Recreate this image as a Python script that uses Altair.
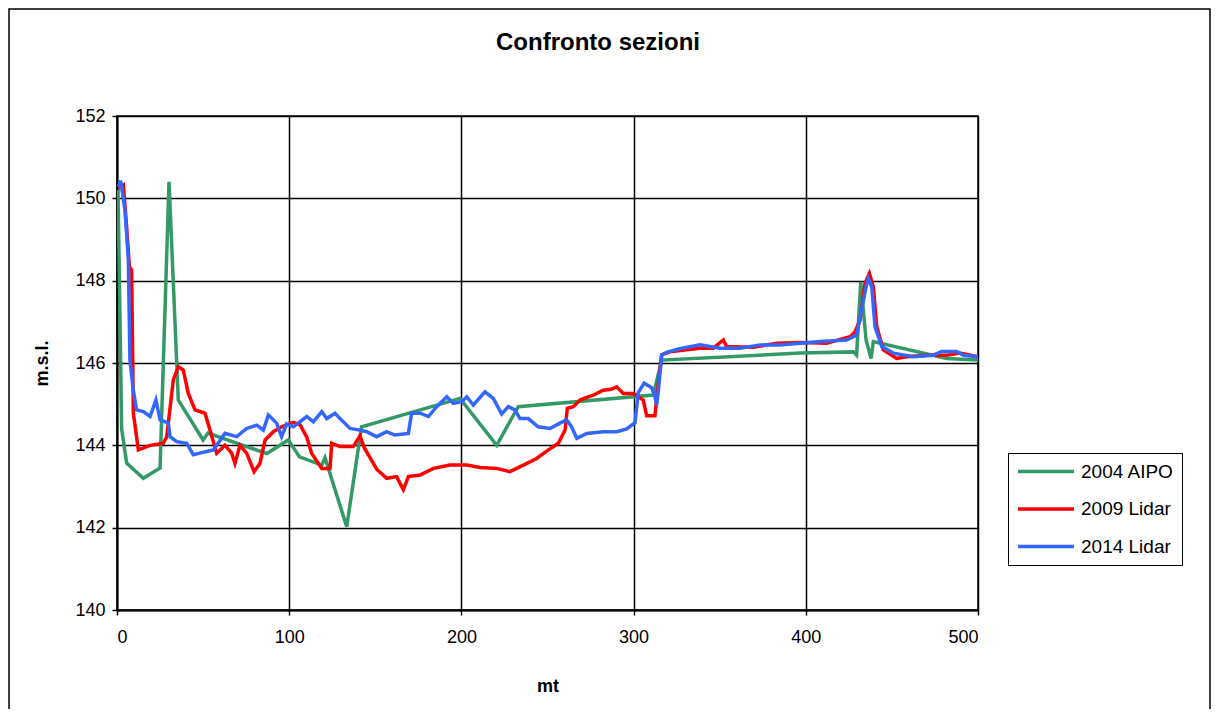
import altair as alt
import pandas as pd

FONT = "Liberation Sans"

chart_title = "Confronto sezioni"
x_title = "mt"
y_title = "m.s.l."
x_ticks = [0, 100, 200, 300, 400, 500]
y_ticks = [140, 142, 144, 146, 148, 150, 152]

series_names = ["2004 AIPO", "2009 Lidar", "2014 Lidar"]
series_colors = ["#339966", "#FF0000", "#3366FF"]

# 2004 AIPO
g_x = [0.6, 2.7, 5.6, 15.3, 25, 30.2, 35.6, 50, 52.8, 87, 99.5, 106, 118.9, 120.8,
       133.4, 142, 199.2, 220.5, 233, 311.4, 316.3, 396.6, 427.6, 429.5, 431.9, 435,
       437.9, 439.2, 481.8, 500]
g_y = [150.2, 144.4, 143.57, 143.2, 143.45, 150.4, 145.1, 144.13, 144.3, 143.8, 144.13,
       143.72, 143.52, 143.7, 142.02, 144.45, 145.14, 144.0, 144.94, 145.22, 146.07,
       146.24, 146.27, 146.19, 147.97, 146.56, 146.11, 146.52, 146.11, 146.07]

# 2009 Lidar
r_x = [0.8, 3.7, 5.6, 7.2, 8.5, 9.5, 12.4, 19.2, 26.9, 28.9, 32.7, 35.6, 38.5, 41.4,
       45.3, 51.1, 54, 57.9, 62.7, 66.6, 68.5, 71.4, 75.3, 79.6, 83, 86, 90.8, 95.6,
       102.4, 106.3, 110.2, 113, 118.9, 123.7, 124.7, 129.5, 137.2, 141.1, 143.5, 150.8,
       156.6, 162.4, 166.3, 169.2, 176, 183.7, 193.4, 203.1, 210.8, 220.5, 228.2, 236,
       243.7, 250.5, 256.3, 260.2, 261.5, 265, 268.9, 272, 276.6, 282.4, 287, 290.2, 294,
       299.8, 302.7, 305.6, 307.6, 312.4, 313.4, 316.3, 321.1, 330.8, 338.6, 346.3, 352.1,
       354, 369.5, 383.1, 396.6, 412.1, 425.7, 428.6, 431.5, 434.4, 436.9, 439.2, 441.2,
       445, 452.8, 458.6, 470.2, 481.8, 489.5, 500]
r_y = [150.24, 150.32, 149.3, 148.34, 148.26, 144.78, 143.89, 144.0, 144.05, 144.21,
       145.59, 145.91, 145.83, 145.26, 144.86, 144.78, 144.37, 143.81, 144.0, 143.81,
       143.56, 144.0, 143.81, 143.36, 143.56, 144.13, 144.33, 144.45, 144.56, 144.5,
       144.2, 143.81, 143.44, 143.44, 144.05, 143.97, 143.97, 144.23, 143.95, 143.42,
       143.2, 143.24, 142.92, 143.24, 143.28, 143.44, 143.52, 143.52, 143.46, 143.44,
       143.36, 143.52, 143.68, 143.89, 144.05, 144.37, 144.9, 144.94, 145.1, 145.15,
       145.22, 145.34, 145.36, 145.42, 145.26, 145.26, 145.18, 145.1, 144.72, 144.72,
       145.14, 146.2, 146.27, 146.32, 146.36, 146.36, 146.56, 146.4, 146.38, 146.48,
       146.5, 146.48, 146.64, 146.76, 147.04, 147.94, 148.18, 147.85, 146.88, 146.32,
       146.11, 146.15, 146.19, 146.19, 146.24, 146.15]

# 2014 Lidar
b_x = [0.8, 2.1, 4.6, 6.6, 7.5, 9.5, 11.4, 15.3, 19.2, 22.6, 25, 29.8, 30.8, 34.7, 40.5,
       44.3, 48.2, 52.1, 56, 62.7, 69.5, 75.3, 81.1, 85, 87.9, 92.7, 95.6, 98.5, 102.4,
       110.2, 114, 118.9, 121.8, 126.6, 129.5, 135.3, 141.1, 145, 150.8, 156.6, 161.4,
       169.2, 171.1, 176, 180.8, 185.7, 191.5, 195.3, 200.2, 203.1, 206.9, 213.7, 218.5,
       223.4, 227.2, 231.1, 234, 238.8, 244.6, 251.4, 257.3, 261.1, 264, 267, 272.8, 282.4,
       290.2, 296, 300.8, 302.7, 306.1, 310.5, 312.4, 313.4, 314.3, 316.3, 319.2, 326,
       338.6, 350.2, 361.8, 373.4, 385, 396.6, 408.2, 423.7, 429.5, 432.4, 435, 436.3,
       438.3, 440.2, 444.1, 450.8, 462.4, 474, 478.9, 487.6, 491.5, 500]
b_y = [150.28, 150.43, 149.72, 148.5, 146.07, 145.34, 144.86, 144.82, 144.7, 145.1,
       144.62, 144.54, 144.21, 144.09, 144.05, 143.77, 143.81, 143.85, 143.89, 144.29,
       144.21, 144.41, 144.49, 144.37, 144.74, 144.54, 144.21, 144.52, 144.45, 144.7,
       144.57, 144.82, 144.65, 144.78, 144.65, 144.41, 144.37, 144.33, 144.21, 144.33,
       144.25, 144.29, 144.78, 144.78, 144.7, 144.94, 145.18, 145.02, 145.06, 145.18,
       144.98, 145.3, 145.14, 144.76, 144.94, 144.86, 144.65, 144.65, 144.45, 144.41,
       144.54, 144.62, 144.45, 144.17, 144.29, 144.33, 144.33, 144.4, 144.55, 145.28,
       145.51, 145.4, 145.18, 144.98, 145.3, 146.2, 146.26, 146.34, 146.44, 146.36,
       146.36, 146.44, 146.44, 146.48, 146.52, 146.56, 146.68, 147.29, 147.85, 148.06,
       147.85, 146.88, 146.4, 146.24, 146.15, 146.19, 146.28, 146.28, 146.19, 146.15]

rows = []
for name, xs, ys in zip(series_names, [g_x, r_x, b_x], [g_y, r_y, b_y]):
    for i, (a, b) in enumerate(zip(xs, ys)):
        rows.append({"mt": a, "msl": b, "serie": name, "i": i})
df = pd.DataFrame(rows)

W, H = 861, 494

lines = alt.Chart(df).mark_line(strokeWidth=3.5, clip=True).encode(
    x=alt.X("mt:Q", scale=alt.Scale(domain=[0, 500], nice=False),
            axis=alt.Axis(values=x_ticks, title=x_title, labelPadding=13, titlePadding=31)),
    y=alt.Y("msl:Q", scale=alt.Scale(domain=[140, 152], nice=False, zero=False),
            axis=alt.Axis(values=y_ticks, title=y_title, labelPadding=7, titlePadding=23)),
    color=alt.Color("serie:N", sort=series_names,
                    scale=alt.Scale(domain=series_names, range=series_colors),
                    legend=alt.Legend(title=None, orient="none", legendX=891, legendY=337,
                                      symbolType="stroke", symbolSize=3136,
                                      symbolStrokeWidth=3.5, clipHeight=21, rowPadding=16.5,
                                      padding=8, strokeColor="black", fillColor="white",
                                      labelFont=FONT, labelFontSize=19, labelColor="black",
                                      labelOffset=5, labelLimit=300)),
    order="i:Q",
)

border = alt.Chart(pd.DataFrame({"k": [0]})).mark_rect(
    filled=False, color="black", strokeWidth=1.5
).encode(x=alt.value(-108), x2=alt.value(1093), y=alt.value(-107), y2=alt.value(720))

title = alt.Chart(pd.DataFrame({"t": [chart_title]})).mark_text(
    font=FONT, fontSize=24, fontWeight="bold", align="center", baseline="middle", color="black"
).encode(text="t:N", x=alt.value(481), y=alt.value(-73))

chart = alt.layer(border, lines, title).properties(
    width=W, height=H,
    padding={"left": 109, "top": 108, "right": 233, "bottom": 99},
    autosize=alt.AutoSizeParams(type="none"),
).configure_view(
    stroke="black", strokeWidth=1.5
).configure_axis(
    labelFont=FONT, labelFontSize=18, labelColor="black",
    titleFont=FONT, titleFontSize=18, titleFontWeight="bold", titleColor="black",
    grid=True, gridColor="black", gridWidth=1.5, gridOpacity=1,
    domainColor="black", domainWidth=2, tickColor="black", tickSize=5, tickWidth=1.5,
)

chart.save("out.html", embed_options={"renderer": "svg", "actions": False})
